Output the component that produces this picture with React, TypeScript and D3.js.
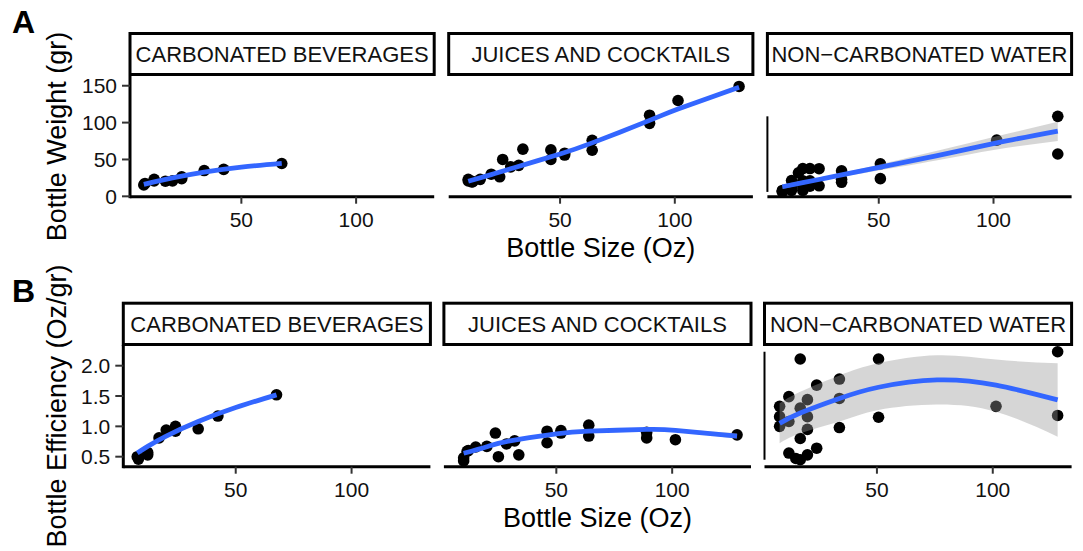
import React from 'react';
import * as d3 from 'd3';

// Beverage categories shown as facets
const categories = ['CARBONATED BEVERAGES', 'JUICES AND COCKTAILS', 'NON−CARBONATED WATER'];

// Carbonated beverages: bottle size (oz), weight (gr), efficiency (oz/gr)
const carbSize = [7.5, 8, 12, 12, 16.9, 20, 24, 24, 33.8, 42.3, 67.6];
const carbWeight = [15.5, 17.5, 21, 23, 20.5, 21, 24, 26.5, 35, 36.5, 44.5];
const carbEff = [0.5, 0.46, 0.57, 0.53, 0.81, 0.94, 1.0, 0.92, 0.96, 1.17, 1.52];

// Juices and cocktails
const juiceSize = [10, 10, 11.5, 12, 15.2, 20, 23.7, 25, 28.5, 32, 33.8, 46, 46, 52, 52, 64, 64, 89, 89, 101.4, 128];
const juiceWeight = [23, 21, 19.5, 20, 23, 30, 26.5, 50, 40, 42, 64, 63, 50, 56, 58.5, 76, 62.5, 110, 99, 130, 149];
const juiceEff = [0.43, 0.48, 0.59, 0.6, 0.66, 0.67, 0.89, 0.5, 0.71, 0.76, 0.53, 0.73, 0.92, 0.93, 0.89, 0.84, 1.02, 0.81, 0.9, 0.78, 0.86];

// Non-carbonated water
const waterSize = [8, 8, 8, 12, 12, 12, 15, 16.9, 16.9, 16.9, 16.9, 20, 20, 20, 20, 24, 24, 33.8, 33.8, 33.8, 50.7, 50.7, 101.4, 128, 128];
const waterWeight = [6.0, 6.9, 8.0, 21.4, 8.1, 11.1, 31.9, 8.0, 21.1, 37.6, 13.0, 13.9, 17.2, 21.1, 37.7, 14.3, 37.5, 19.0, 23.2, 34.5, 24.0, 44.1, 76.2, 57.4, 108.5];
const waterEff = [1.33, 1.16, 1.0, 0.56, 1.49, 1.08, 0.47, 2.11, 0.8, 0.45, 1.3, 1.44, 1.16, 0.95, 0.53, 1.68, 0.64, 1.78, 1.46, 0.98, 2.11, 1.15, 1.33, 2.23, 1.18];

// Smoothed trends (loess) with 95% confidence limits
const carbFitSize = [7.5, 12, 20, 33.8, 50, 67.6];
const carbFitWeight = [16.3, 19.6, 25.0, 32.8, 39.6, 44.8];
const carbFitEff = [0.56, 0.67, 0.84, 1.08, 1.31, 1.52];

const juiceFitSize = [10, 20, 30, 50, 64, 89, 101.4, 128];
const juiceFitWeight = [20.5, 29.5, 38.8, 57.5, 72.5, 103, 118.5, 148];
const juiceFitEff = [0.556, 0.665, 0.76, 0.875, 0.92, 0.95, 0.935, 0.84];
const juiceFitEffLo = [0.546, 0.655, 0.75, 0.865, 0.91, 0.935, 0.915, 0.795];
const juiceFitEffHi = [0.566, 0.675, 0.77, 0.885, 0.93, 0.965, 0.955, 0.885];

const waterFitSize = [8, 16.9, 25, 33.8, 50.7, 75, 101.4, 128];
const waterFitWeight = [13, 18.5, 23.5, 29, 39.5, 55, 72.5, 88.5];
const waterFitWeightLo = [10, 16, 21.5, 26.5, 35.5, 48.5, 63.5, 75];
const waterFitWeightHi = [16, 21, 25.5, 31.5, 43.5, 61.5, 81.5, 101];

const waterEffFitSize = [8, 16.9, 33.8, 50.7, 76, 101.4, 128];
const waterFitEff = [1.05, 1.22, 1.46, 1.645, 1.766, 1.68, 1.436];
const waterFitEffLo = [0.72, 0.885, 1.08, 1.27, 1.36, 1.24, 0.83];
const waterFitEffHi = [1.38, 1.57, 1.84, 2.04, 2.17, 2.1, 2.04];

const xTicks = [50, 100];
const weightTicks = [0, 50, 100, 150];
const effTicks = [0.5, 1.0, 1.5, 2.0];

const FONT = '"Liberation Sans", Arial, Helvetica, sans-serif';
const LINE_BLUE = '#3366FF';

type Fit = { x: number[]; y: number[]; lo?: number[]; hi?: number[] };
type Series = { x: number[]; y: number[]; fit: Fit };

type Row = {
  label: string;
  labelY: number;
  yTitle: string;
  yTitleY: number;
  series: Series[];
  yDomain: [number, number];
  yTicks: number[];
  fmt: (v: number) => string;
  left: number;
  right: number;
  gap: number;
  stripTop: number;
  stripBottom: number;
  panelTop: number;
  panelBottom: number;
};

const allSizes = [...carbSize, ...juiceSize, ...waterSize];
const xExt = d3.extent(allSizes) as [number, number];
const xPad = (xExt[1] - xExt[0]) * 0.05;
const xDomain: [number, number] = [xExt[0] - xPad, xExt[1] + xPad];

const rows: Row[] = [
  {
    label: 'A',
    labelY: 33,
    yTitle: 'Bottle Weight (gr)',
    yTitleY: 136.5,
    series: [
      { x: carbSize, y: carbWeight, fit: { x: carbFitSize, y: carbFitWeight } },
      { x: juiceSize, y: juiceWeight, fit: { x: juiceFitSize, y: juiceFitWeight } },
      {
        x: waterSize,
        y: waterWeight,
        fit: { x: waterFitSize, y: waterFitWeight, lo: waterFitWeightLo, hi: waterFitWeightHi },
      },
    ],
    yDomain: [-0.5, 163.2],
    yTicks: weightTicks,
    fmt: d3.format('d'),
    left: 130,
    right: 1071.6,
    gap: 14.5,
    stripTop: 33.5,
    stripBottom: 74.5,
    panelTop: 76,
    panelBottom: 196.7,
  },
  {
    label: 'B',
    labelY: 302,
    yTitle: 'Bottle Efficiency (Oz/gr)',
    yTitleY: 406,
    series: [
      { x: carbSize, y: carbEff, fit: { x: carbFitSize, y: carbFitEff } },
      {
        x: juiceSize,
        y: juiceEff,
        fit: { x: juiceFitSize, y: juiceFitEff, lo: juiceFitEffLo, hi: juiceFitEffHi },
      },
      {
        x: waterSize,
        y: waterEff,
        fit: { x: waterEffFitSize, y: waterFitEff, lo: waterFitEffLo, hi: waterFitEffHi },
      },
    ],
    yDomain: [0.335, 2.341],
    yTicks: effTicks,
    fmt: d3.format('.1f'),
    left: 123.3,
    right: 1071.6,
    gap: 13.5,
    stripTop: 303.2,
    stripBottom: 344.5,
    panelTop: 345,
    panelBottom: 466.7,
  },
];

function FacetRow({ row }: { row: Row }) {
  const w = (row.right - row.left - 2 * row.gap) / 3;
  const y = d3.scaleLinear().domain(row.yDomain).range([row.panelBottom, row.panelTop]);
  return (
    <g>
      <text x={12} y={row.labelY} fontSize={32} fontWeight="bold" fontFamily={FONT} fill="#000">
        {row.label}
      </text>
      <text
        transform={`translate(66,${row.yTitleY}) rotate(-90)`}
        textAnchor="middle"
        fontSize={27}
        fontFamily={FONT}
        fill="#000"
      >
        {row.yTitle}
      </text>
      {row.series.map((s, i) => {
        const x0 = row.left + i * (w + row.gap);
        const x = d3.scaleLinear().domain(xDomain).range([x0, x0 + w]);
        const f = s.fit;
        const idx = d3.range(f.x.length);
        const line = d3
          .line<number>()
          .curve(d3.curveNatural)
          .x((k) => x(f.x[k]))
          .y((k) => y(f.y[k]));
        const area =
          f.lo && f.hi
            ? d3
                .area<number>()
                .curve(d3.curveNatural)
                .x((k) => x(f.x[k]))
                .y0((k) => y(f.lo![k]))
                .y1((k) => y(f.hi![k]))
            : null;
        const [yMin, yMax] = d3.extent(s.y) as [number, number];
        return (
          <g key={i}>
            <rect
              x={x0}
              y={row.stripTop}
              width={w}
              height={row.stripBottom - row.stripTop}
              fill="#fff"
              stroke="#000"
              strokeWidth={3}
            />
            <text
              x={x0 + w / 2}
              y={row.stripTop + 28.3}
              textAnchor="middle"
              fontSize={22}
              fontFamily={FONT}
              fill="#111"
            >
              {categories[i]}
            </text>
            {s.x.map((xv, k) => (
              <circle key={k} cx={x(xv)} cy={y(s.y[k])} r={5.8} fill="#000" />
            ))}
            {area && <path d={area(idx) || ''} fill="#999999" fillOpacity={0.4} stroke="none" />}
            <path d={line(idx) || ''} fill="none" stroke={LINE_BLUE} strokeWidth={4.8} />
            {/* x axis */}
            <line x1={x0} x2={x0 + w} y1={row.panelBottom} y2={row.panelBottom} stroke="#000" strokeWidth={3} />
            {xTicks.map((tv) => (
              <g key={tv}>
                <line x1={x(tv)} x2={x(tv)} y1={row.panelBottom} y2={row.panelBottom + 7} stroke="#333" strokeWidth={2} />
                <text
                  x={x(tv)}
                  y={row.panelBottom + 30}
                  textAnchor="middle"
                  fontSize={21}
                  fontFamily={FONT}
                  fill="#111"
                >
                  {tv}
                </text>
              </g>
            ))}
            {i === 0 && (
              <g>
                <line x1={x0} x2={x0} y1={row.panelTop} y2={row.panelBottom + 1.5} stroke="#000" strokeWidth={3} />
                {row.yTicks.map((tv) => (
                  <g key={tv}>
                    <line x1={x0 - 8} x2={x0} y1={y(tv)} y2={y(tv)} stroke="#333" strokeWidth={2} />
                    <text
                      x={x0 - 13}
                      y={y(tv) + 7.5}
                      textAnchor="end"
                      fontSize={21}
                      fontFamily={FONT}
                      fill="#111"
                    >
                      {row.fmt(tv)}
                    </text>
                  </g>
                ))}
              </g>
            )}
            {i === 2 && (
              <line x1={x0} x2={x0} y1={y(yMax)} y2={y(yMin)} stroke="#000" strokeWidth={2} />
            )}
          </g>
        );
      })}
      <text
        x={(row.left + row.right) / 2}
        y={row.panelBottom + 60.3}
        textAnchor="middle"
        fontSize={27}
        fontFamily={FONT}
        fill="#000"
      >
        Bottle Size (Oz)
      </text>
    </g>
  );
}

export default function App() {
  return (
    <svg
      width={1083}
      height={551}
      viewBox="0 0 1083 551"
      style={{ position: 'absolute', left: 0, top: 0, background: '#fff' }}
    >
      <rect x={0} y={0} width={1083} height={551} fill="#fff" />
      {rows.map((r) => (
        <FacetRow key={r.label} row={r} />
      ))}
    </svg>
  );
}
